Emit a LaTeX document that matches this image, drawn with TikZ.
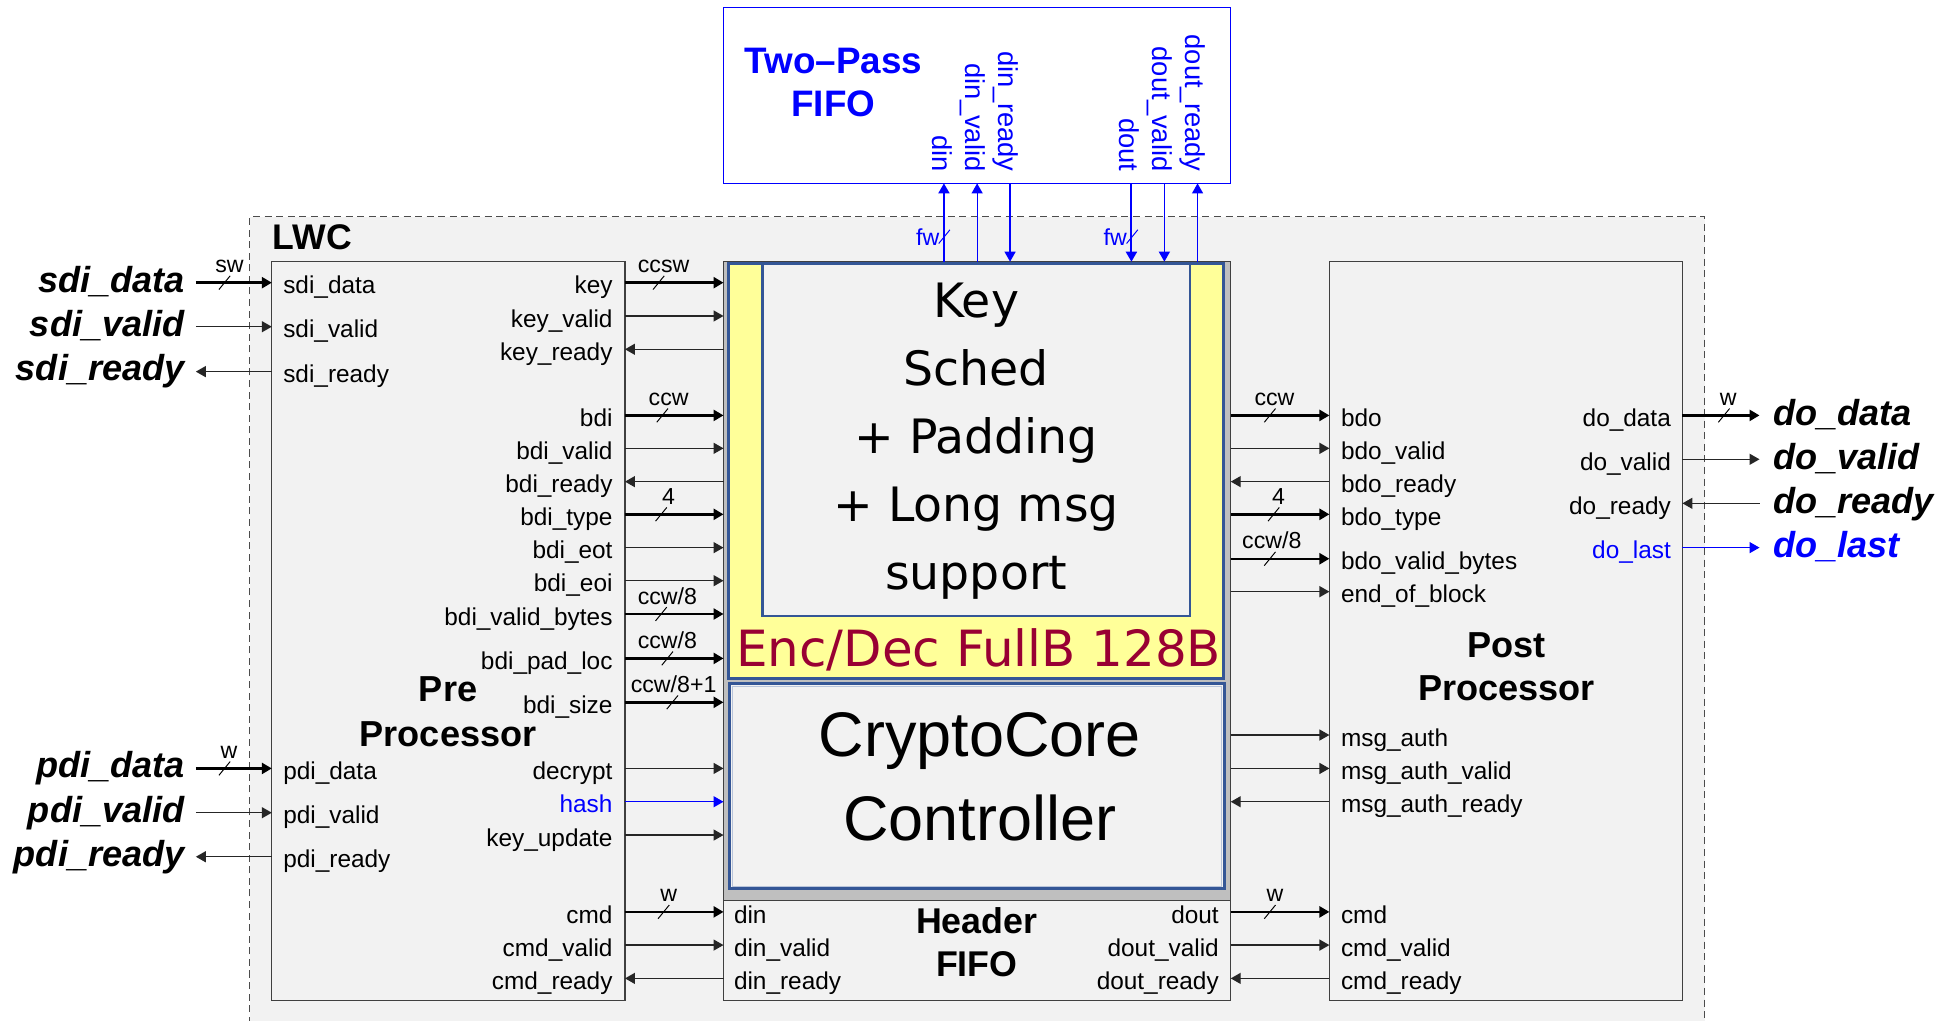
\documentclass[tikz,border=0pt]{standalone}
\usepackage{fontspec}
\setmainfont{Liberation Sans}
\newfontfamily\dejavu{DejaVu Sans}
\usetikzlibrary{arrows.meta,fit}
\definecolor{bgray}{HTML}{F2F2F2}
\definecolor{midgray}{HTML}{BFBFBF}
\definecolor{ylw}{HTML}{FFFF99}
\definecolor{frameblue}{RGB}{52,86,150}
\definecolor{encred}{RGB}{153,0,51}
\definecolor{pblue}{RGB}{0,0,255}
\definecolor{ln}{HTML}{262626}
\newcommand{\fsz}[1]{\fontsize{#1}{#1}\selectfont}
\newcommand{\hsig}[4]{\coordinate (hy) at (0,#4);\draw[#1] (#2 |- hy) -- (#3 |- hy);}
\newcommand{\vsig}[4]{\coordinate (vx) at (#4,0);\draw[#1] (#2 -| vx) -- (#3 -| vx);}
\newcommand{\wslash}[3]{\draw[slashline,#3] (#1-4.5,#2+5.5) -- (#1+4.5,#2-5.5);}
\tikzset{
  tipR/.style={-{Triangle[length=2mm,width=2.2mm]}},
  thinsig/.style={draw=ln, line width=0.8pt},
  bussig/.style={draw=black, line width=1.4pt},
  slashline/.style={draw=black, line width=0.55pt},
  lbl/.style={font=\fsz{13.9}, inner sep=0, outer sep=0},
  lblL/.style={lbl, anchor=base west},
  lblR/.style={lbl, anchor=base east},
  wlbl/.style={font=\fsz{13.2}, inner sep=0, outer sep=0, anchor=base},
  outerlbl/.style={font=\fsz{20.6}\bfseries\itshape, inner sep=0, outer sep=0},
  title/.style={font=\fsz{20.6}\bfseries, inner sep=0, outer sep=0, anchor=base},
  rlbl/.style={font=\fsz{15.6}, text=pblue, inner sep=0, outer sep=0, rotate=-90, anchor=base east},
  rect/.style={inner sep=0, outer sep=0},
  ks/.style={font=\dejavu\fsz{27}, inner sep=0, outer sep=0, anchor=base},
}
\begin{document}
\begin{tikzpicture}[x=0.025cm, y=-0.025cm]
\useasboundingbox (0,0) rectangle (1568,818.4);
\clip (0,0) rectangle (1568,818.4);

% LWC region
\fill[bgray] (200.2,173.7) rectangle (1366.5,830);
\draw[black!70, line width=0.6pt, dash pattern=on 4pt off 2.6pt] (200.2,830) -- (200.2,173.7) -- (1366.5,173.7) -- (1366.5,830);
\node[title, anchor=base west, font=\fsz{20.3}\bfseries] (lwc) at (218.6,200.4) {LWC};

% Two-pass FIFO
\coordinate (t1) at (579.8,5.9); \coordinate (t2) at (986.6,147);
\node[rect, fit=(t1)(t2), draw=pblue, fill=white, line width=0.6pt] (tpf) {};
\node[title, text=pblue, font=\fsz{21}\bfseries] (tp1) at (668,59.3) {Two--Pass};
\node[title, text=pblue, font=\fsz{21}\bfseries] (tp2) at (668,93.5) {FIFO};
\node[rlbl] (r-din) at (747.2,137.5) {din};
\node[rlbl] (r-dinv) at (773.8,137.5) {din\_valid};
\node[rlbl] (r-dinr) at (800.2,137.5) {din\_ready};
\node[rlbl] (r-dout) at (897.5,137.5) {dout};
\node[rlbl] (r-doutv) at (923.9,137.5) {dout\_valid};
\node[rlbl] (r-doutr) at (950.5,137.5) {dout\_ready};

% Pre processor
\coordinate (p1) at (217.9,209.5); \coordinate (p2) at (501,801.7);
\node[rect, fit=(p1)(p2), draw=black!75, fill=bgray, line width=0.6pt] (pre) {};
\node[title] (pre1) at (359.2,562.5) {Pre};
\node[title] (pre2) at (359.2,598.6) {Processor};

% Post processor
\coordinate (q1) at (1065.7,209.5); \coordinate (q2) at (1348.7,801.7);
\node[rect, fit=(q1)(q2), draw=black!75, fill=bgray, line width=0.6pt] (post) {};
\node[title] (post1) at (1207.7,527) {Post};
\node[title] (post2) at (1207.7,561.7) {Processor};

% Core
\coordinate (c1) at (580,209.8); \coordinate (c2) at (986.6,801.7);
\node[rect, fit=(c1)(c2), draw=black!75, fill=midgray, line width=0.6pt] (core) {};
\coordinate (e1) at (584,211.3); \coordinate (e2) at (981,544);
\node[rect, fit=(e1)(e2), draw=frameblue, fill=ylw, line width=1.7pt] (encdec) {};
\coordinate (k1) at (611.3,211.3); \coordinate (k2) at (954,493.6);
\node[rect, fit=(k1)(k2), draw=frameblue, fill=bgray, line width=1.4pt] (keysched) {};
\node[ks] (ks1) at (782.5,254.5) {Key};
\node[ks] (ks2) at (782.5,309.1) {Sched};
\node[ks] (ks3) at (782.5,363.7) {+ Padding};
\node[ks] (ks4) at (782.5,418.3) {+ Long msg};
\node[ks] (ks5) at (782.5,472.9) {support};
\node[inner sep=0, outer sep=0, anchor=base, font=\dejavu\fsz{28.45}, text=encred] (enctxt) at (784.5,534.4) {Enc/Dec FullB 128B};
\coordinate (g1) at (585,548); \coordinate (g2) at (981.3,712.5);
\node[rect, fit=(g1)(g2), draw=frameblue, fill=bgray, line width=1.7pt] (ctrl) {};
\draw[frameblue!35, line width=0.5pt] (587.2,550.2) rectangle (979.1,710.3);
\node[inner sep=0, outer sep=0, anchor=base, font=\fsz{35.9}] (cc1) at (785.5,606.6) {CryptoCore};
\node[inner sep=0, outer sep=0, anchor=base, font=\fsz{35.9}] (cc2) at (785.5,673.4) {Controller};
\coordinate (h1) at (580,721.5); \coordinate (h2) at (986.6,801.7);
\node[rect, fit=(h1)(h2), draw=black!75, fill=bgray, line width=0.6pt] (hfifo) {};
\node[title, font=\fsz{20.4}\bfseries] (hf1) at (783,748.2) {Header};
\node[title, font=\fsz{20.4}\bfseries] (hf2) at (783,783) {FIFO};
\node[lblL] (hf-din) at (588.4,740) {din};
\node[lblL] (hf-dinv) at (588.4,766.6) {din\_valid};
\node[lblL] (hf-dinr) at (588.4,793.3) {din\_ready};
\node[lblR] (hf-dout) at (977,740) {dout};
\node[lblR] (hf-doutv) at (977,766.6) {dout\_valid};
\node[lblR] (hf-doutr) at (977,793.3) {dout\_ready};

% Top connections core <-> two-pass FIFO
\vsig{draw=pblue, line width=1.1pt, tipR}{core.north}{tpf.south}{756.7}
\vsig{draw=pblue, line width=0.65pt, tipR}{core.north}{tpf.south}{783.3}
\vsig{draw=pblue, line width=0.65pt, tipR}{tpf.south}{core.north}{809.7}
\vsig{draw=pblue, line width=1.1pt, tipR}{tpf.south}{core.north}{907}
\vsig{draw=pblue, line width=0.65pt, tipR}{tpf.south}{core.north}{933.4}
\vsig{draw=pblue, line width=0.65pt, tipR}{core.north}{tpf.south}{960}
\wslash{757}{189.7}{draw=pblue}
\wslash{907.6}{189.7}{draw=pblue}
\node[wlbl, anchor=base east, text=pblue] (fw1) at (753,196.4) {fw};
\node[wlbl, anchor=base east, text=pblue] (fw2) at (903.3,196.4) {fw};

% Outer left
\coordinate (xl) at (157,0);
\hsig{bussig,tipR}{xl}{pre.west}{226.6}
\hsig{thinsig,tipR}{xl}{pre.west}{261.9}
\hsig{thinsig,tipR}{pre.west}{xl}{297.9}
\hsig{bussig,tipR}{xl}{pre.west}{616}
\hsig{thinsig,tipR}{xl}{pre.west}{651.5}
\hsig{thinsig,tipR}{pre.west}{xl}{686.8}
\wslash{180}{226.6}{}
\wslash{180}{616}{}
\node[wlbl] (w-sdi) at (184,218.6) {sw};
\node[wlbl] (w-pdi) at (183.5,608) {w};
\node[outerlbl, anchor=base east] (o-sdid) at (148,234.1) {sdi\_data};
\node[outerlbl, anchor=base east] (o-sdiv) at (148,269.4) {sdi\_valid};
\node[outerlbl, anchor=base east] (o-sdir) at (148,305.4) {sdi\_ready};
\node[outerlbl, anchor=base east] (o-pdid) at (148,623.5) {pdi\_data};
\node[outerlbl, anchor=base east] (o-pdiv) at (148,659) {pdi\_valid};
\node[outerlbl, anchor=base east] (o-pdir) at (148,694.3) {pdi\_ready};
\node[lblL] (l-sdid) at (227.1,235.6) {sdi\_data};
\node[lblL] (l-sdiv) at (227.1,270.9) {sdi\_valid};
\node[lblL] (l-sdir) at (227.1,306.9) {sdi\_ready};
\node[lblL] (l-pdid) at (227.1,625) {pdi\_data};
\node[lblL] (l-pdiv) at (227.1,660.5) {pdi\_valid};
\node[lblL] (l-pdir) at (227.1,695.8) {pdi\_ready};

% Pre -> core
\hsig{bussig,tipR}{pre.east}{core.west}{226.6}
\hsig{thinsig,tipR}{pre.east}{core.west}{253.3}
\hsig{thinsig,tipR}{core.west}{pre.east}{280}
\hsig{bussig,tipR}{pre.east}{core.west}{333}
\hsig{thinsig,tipR}{pre.east}{core.west}{359.4}
\hsig{thinsig,tipR}{core.west}{pre.east}{386.1}
\hsig{bussig,tipR}{pre.east}{core.west}{412.3}
\hsig{thinsig,tipR}{pre.east}{core.west}{439}
\hsig{thinsig,tipR}{pre.east}{core.west}{465.5}
\hsig{bussig,tipR}{pre.east}{core.west}{492.2}
\hsig{bussig,tipR}{pre.east}{core.west}{527.8}
\hsig{bussig,tipR}{pre.east}{core.west}{563}
\hsig{thinsig,tipR}{pre.east}{core.west}{616}
\hsig{thinsig,draw=pblue,tipR}{pre.east}{core.west}{642.7}
\hsig{thinsig,tipR}{pre.east}{core.west}{669.4}
\hsig{bussig,tipR}{pre.east}{hfifo.west}{731}
\hsig{thinsig,tipR}{pre.east}{hfifo.west}{757.6}
\hsig{thinsig,tipR}{hfifo.west}{pre.east}{784.3}
\wslash{528}{226.6}{}
\wslash{531}{333}{}
\wslash{530}{412.3}{}
\wslash{530}{492.2}{}
\wslash{535}{527.8}{}
\wslash{539}{563}{}
\wslash{532}{731}{}
\node[wlbl] (w-key) at (532,218.6) {ccsw};
\node[wlbl] (w-bdi) at (536,325) {ccw};
\node[wlbl] (w-bdit) at (536,404.3) {4};
\node[wlbl] (w-bdivb) at (535,484.2) {ccw/8};
\node[wlbl] (w-bdipl) at (535,519.8) {ccw/8};
\node[wlbl] (w-bdis) at (540,555) {ccw/8+1};
\node[wlbl] (w-cmd) at (536,723) {w};
\node[lblR] (l-key) at (491,235.6) {key};
\node[lblR] (l-keyv) at (491,262.3) {key\_valid};
\node[lblR] (l-keyr) at (491,289) {key\_ready};
\node[lblR] (l-bdi) at (491,342) {bdi};
\node[lblR] (l-bdiv) at (491,368.4) {bdi\_valid};
\node[lblR] (l-bdir) at (491,395.1) {bdi\_ready};
\node[lblR] (l-bdit) at (491,421.3) {bdi\_type};
\node[lblR] (l-bdieot) at (491,448) {bdi\_eot};
\node[lblR] (l-bdieoi) at (491,474.5) {bdi\_eoi};
\node[lblR] (l-bdivb) at (491,501.2) {bdi\_valid\_bytes};
\node[lblR] (l-bdipl) at (491,536.8) {bdi\_pad\_loc};
\node[lblR] (l-bdis) at (491,572) {bdi\_size};
\node[lblR] (l-dec) at (491,625) {decrypt};
\node[lblR, text=pblue] (l-hash) at (491,651.7) {hash};
\node[lblR] (l-keyu) at (491,678.4) {key\_update};
\node[lblR] (l-cmd) at (491,740) {cmd};
\node[lblR] (l-cmdv) at (491,766.6) {cmd\_valid};
\node[lblR] (l-cmdr) at (491,793.3) {cmd\_ready};

% Core -> post
\hsig{bussig,tipR}{core.east}{post.west}{333}
\hsig{thinsig,tipR}{core.east}{post.west}{359.4}
\hsig{thinsig,tipR}{post.west}{core.east}{386.1}
\hsig{bussig,tipR}{core.east}{post.west}{412.3}
\hsig{bussig,tipR}{core.east}{post.west}{447.9}
\hsig{thinsig,tipR}{core.east}{post.west}{474.3}
\hsig{thinsig,tipR}{core.east}{post.west}{589.2}
\hsig{thinsig,tipR}{core.east}{post.west}{616}
\hsig{thinsig,tipR}{post.west}{core.east}{642.7}
\hsig{bussig,tipR}{hfifo.east}{post.west}{731}
\hsig{thinsig,tipR}{hfifo.east}{post.west}{757.6}
\hsig{thinsig,tipR}{post.west}{hfifo.east}{784.3}
\wslash{1018}{333}{}
\wslash{1021}{412.3}{}
\wslash{1018}{447.9}{}
\wslash{1018}{731}{}
\node[wlbl] (w-bdo) at (1021.7,325) {ccw};
\node[wlbl] (w-bdot) at (1025,404.3) {4};
\node[wlbl] (w-bdovb) at (1019.5,439.9) {ccw/8};
\node[wlbl] (w-cmd2) at (1022,723) {w};
\node[lblL] (m-bdo) at (1075,342) {bdo};
\node[lblL] (m-bdov) at (1075,368.4) {bdo\_valid};
\node[lblL] (m-bdor) at (1075,395.1) {bdo\_ready};
\node[lblL] (m-bdot) at (1075,421.3) {bdo\_type};
\node[lblL] (m-bdovb) at (1075,456.9) {bdo\_valid\_bytes};
\node[lblL] (m-eob) at (1075,483.3) {end\_of\_block};
\node[lblL] (m-ma) at (1075,598.2) {msg\_auth};
\node[lblL] (m-mav) at (1075,625) {msg\_auth\_valid};
\node[lblL] (m-mar) at (1075,651.7) {msg\_auth\_ready};
\node[lblL] (m-cmd) at (1075,740) {cmd};
\node[lblL] (m-cmdv) at (1075,766.6) {cmd\_valid};
\node[lblL] (m-cmdr) at (1075,793.3) {cmd\_ready};

% Post -> outside
\coordinate (xr) at (1410.5,0);
\hsig{bussig,tipR}{post.east}{xr}{333}
\hsig{thinsig,tipR}{post.east}{xr}{368.2}
\hsig{thinsig,tipR}{xr}{post.east}{403.5}
\hsig{thinsig,draw=pblue,tipR}{post.east}{xr}{439}
\wslash{1382}{333}{}
\node[wlbl] (w-do) at (1385.5,325) {w};
\node[lblR] (n-dod) at (1339.4,342) {do\_data};
\node[lblR] (n-dov) at (1339.4,377.2) {do\_valid};
\node[lblR] (n-dor) at (1339.4,412.5) {do\_ready};
\node[lblR, text=pblue] (n-dol) at (1339.4,448) {do\_last};
\node[outerlbl, anchor=base west] (o-dod) at (1421.4,341) {do\_data};
\node[outerlbl, anchor=base west] (o-dov) at (1421.4,376.2) {do\_valid};
\node[outerlbl, anchor=base west] (o-dor) at (1421.4,411.5) {do\_ready};
\node[outerlbl, anchor=base west, text=pblue] (o-dol) at (1421.4,447) {do\_last};
\end{tikzpicture}
\end{document}
